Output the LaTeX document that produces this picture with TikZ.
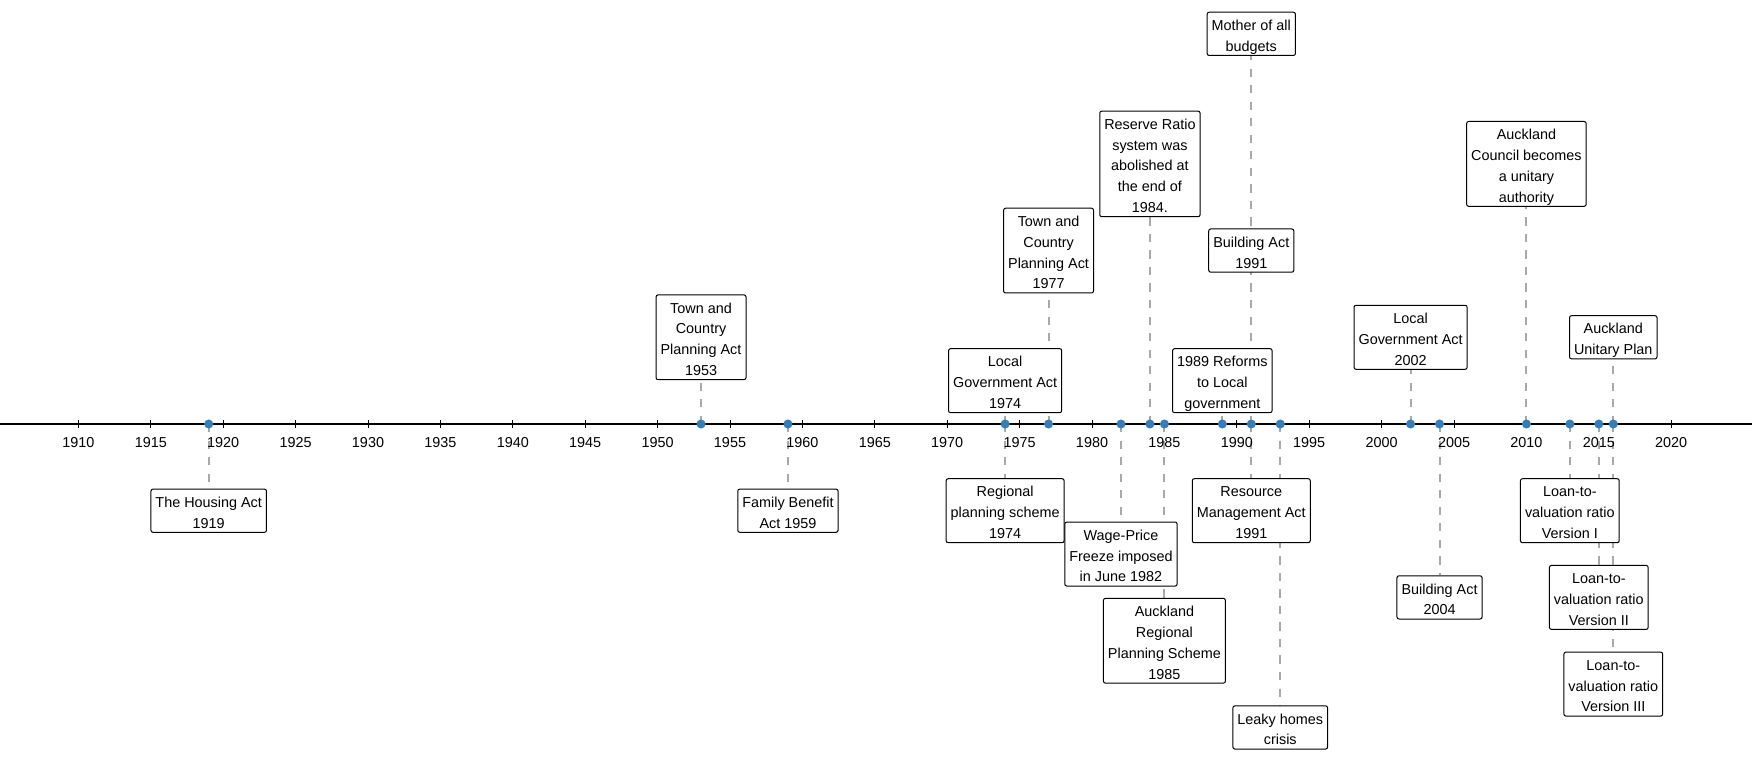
\documentclass[tikz,border=0pt]{standalone}
\usepackage{fontspec}
\setmainfont{Liberation Sans}
\usetikzlibrary{backgrounds}
\newcommand\evfont{\fontsize{10.8pt}{15.6pt}\selectfont}
\newcommand\evs{\rule[-2.5pt]{0pt}{15.6pt}}
\definecolor{dotblue}{HTML}{377EB8}
\definecolor{leadgray}{HTML}{A9A9A9}
\begin{document}
\begin{tikzpicture}[x=0.75pt,y=-0.75pt,
  evbox/.style={draw=black, line width=0.75pt, fill=white, rounded corners=1.5pt,
    align=center, font=\evfont, inner xsep=3.4pt, inner ysep=0.6pt},
  leader/.style={draw=leadgray, line width=1.5pt, dash pattern=on 6.2pt off 6.2pt},
  evdot/.style={circle, fill=dotblue, inner sep=0pt, minimum size=6.8pt},
  yearlbl/.style={font=\evfont, inner sep=0pt},
  axisline/.style={line width=2pt, black},
  tickline/.style={line width=0.75pt, black}]
\useasboundingbox (0,0) rectangle (1752,762);
\def\X#1{78.4+(#1-1910)*14.48}
\def\Y#1{424+(#1)*43.35}
% event boxes
\node[evbox] (housing) at ({\X{1919}},{\Y{2}}) {\evs The Housing Act\\\evs 1919};
\node[evbox] (tc53) at ({\X{1953}},{\Y{-2}}) {\evs Town and\\\evs Country\\\evs Planning Act\\\evs 1953};
\node[evbox] (fb59) at ({\X{1959}},{\Y{2}}) {\evs Family Benefit\\\evs Act 1959};
\node[evbox] (lga74) at ({\X{1974}},{\Y{-1}}) {\evs Local\\\evs Government Act\\\evs 1974};
\node[evbox] (rps74) at ({\X{1974}},{\Y{2}}) {\evs Regional\\\evs planning scheme\\\evs 1974};
\node[evbox] (tc77) at ({\X{1977}},{\Y{-4}}) {\evs Town and\\\evs Country\\\evs Planning Act\\\evs 1977};
\node[evbox] (wpf82) at ({\X{1982}},{\Y{3}}) {\evs Wage-Price\\\evs Freeze imposed\\\evs in June 1982};
\node[evbox] (rr84) at ({\X{1984}},{\Y{-6}}) {\evs Reserve Ratio\\\evs system was\\\evs abolished at\\\evs the end of\\\evs 1984.};
\node[evbox] (arps85) at ({\X{1985}},{\Y{5}}) {\evs Auckland\\\evs Regional\\\evs Planning Scheme\\\evs 1985};
\node[evbox] (ref89) at ({\X{1989}},{\Y{-1}}) {\evs 1989 Reforms\\\evs to Local\\\evs government};
\node[evbox] (mob91) at ({\X{1991}},{\Y{-9}}) {\evs Mother of all\\\evs budgets};
\node[evbox] (ba91) at ({\X{1991}},{\Y{-4}}) {\evs Building Act\\\evs 1991};
\node[evbox] (rma91) at ({\X{1991}},{\Y{2}}) {\evs Resource\\\evs Management Act\\\evs 1991};
\node[evbox] (leaky93) at ({\X{1993}},{\Y{7}}) {\evs Leaky homes\\\evs crisis};
\node[evbox] (lga02) at ({\X{2002}},{\Y{-2}}) {\evs Local\\\evs Government Act\\\evs 2002};
\node[evbox] (ba04) at ({\X{2004}},{\Y{4}}) {\evs Building Act\\\evs 2004};
\node[evbox] (ac10) at ({\X{2010}},{\Y{-6}}) {\evs Auckland\\\evs Council becomes\\\evs a unitary\\\evs authority};
\node[evbox] (lvr13) at ({\X{2013}},{\Y{2}}) {\evs Loan-to-\\\evs valuation ratio\\\evs Version I};
\node[evbox] (lvr15) at ({\X{2015}},{\Y{4}}) {\evs Loan-to-\\\evs valuation ratio\\\evs Version II};
\node[evbox] (aup16) at ({\X{2016}},{\Y{-2}}) {\evs Auckland\\\evs Unitary Plan};
\node[evbox] (lvr16) at ({\X{2016}},{\Y{6}}) {\evs Loan-to-\\\evs valuation ratio\\\evs Version III};
% axis
\coordinate (axL) at (0,424);
\coordinate (axR) at (1752,424);
\draw[axisline] (axL) -- (axR);
\foreach \yr in {1910,1915,...,2020}{
  \coordinate (tt\yr) at ({\X{\yr}},420);
  \coordinate (tb\yr) at ({\X{\yr}},428.5);
  \draw[tickline] (tt\yr) -- (tb\yr);
  \node[yearlbl] (lab\yr) at ({\X{\yr}},442.3) {\yr};
}
% dots
\foreach \yr in {1919,1953,1959,1974,1977,1982,1984,1985,1989,1991,1993,2002,2004,2010,2013,2015,2016}{
  \node[evdot] (p\yr) at ({\X{\yr}},424) {};
}
% leaders
\begin{pgfonlayer}{background}
\draw[leader] (p1919.center) -- (housing);
\draw[leader] (p1953.center) -- (tc53);
\draw[leader] (p1959.center) -- (fb59);
\draw[leader] (p1974.center) -- (lga74);
\draw[leader] (p1974.center) -- (rps74);
\draw[leader] (p1977.center) -- (tc77);
\draw[leader] (p1982.center) -- (wpf82);
\draw[leader] (p1984.center) -- (rr84);
\draw[leader] (p1985.center) -- (arps85);
\draw[leader] (p1989.center) -- (ref89);
\draw[leader] (p1991.center) -- (mob91);
\draw[leader] (p1991.center) -- (ba91);
\draw[leader] (p1991.center) -- (rma91);
\draw[leader] (p1993.center) -- (leaky93);
\draw[leader] (p2002.center) -- (lga02);
\draw[leader] (p2004.center) -- (ba04);
\draw[leader] (p2010.center) -- (ac10);
\draw[leader] (p2013.center) -- (lvr13);
\draw[leader] (p2015.center) -- (lvr15);
\draw[leader] (p2016.center) -- (aup16);
\draw[leader] (p2016.center) -- (lvr16);
\end{pgfonlayer}
\end{tikzpicture}
\end{document}
